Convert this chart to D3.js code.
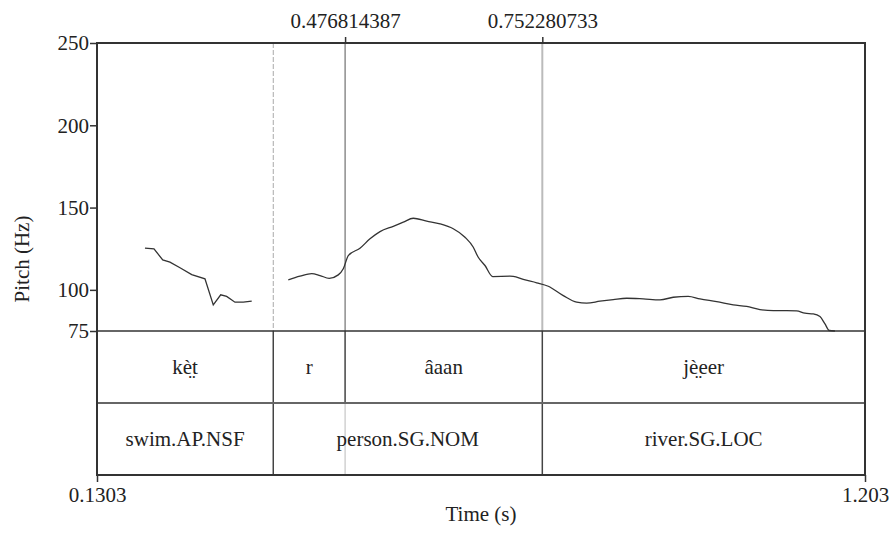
<!DOCTYPE html>
<html>
<head>
<meta charset="utf-8">
<script src="https://cdn.jsdelivr.net/npm/d3@7"></script>
<style>
  body { margin: 0; background: #fff; }
  svg text { font-family: 'Times New Roman', Times, 'Liberation Serif', 'Noto Serif', 'DejaVu Serif', serif; font-size: 21px; fill: #222; }
</style>
</head>
<body>
<div id="chart"></div>
<script>
// Size of the picture
var width = 891;
var height = 533;

// Pitch track, two voiced stretches (time in s, pitch in Hz)
var seg1Time = [0.1973, 0.2099, 0.2221, 0.2322, 0.2462, 0.2626, 0.2811, 0.2927, 0.3031, 0.3114, 0.3230, 0.3346, 0.3464];
var seg1Hz   = [125.3, 124.9, 118.2, 116.8, 113.4, 109.3, 106.7, 90.9, 97.0, 96.0, 92.5, 92.5, 93.1];

var seg2Time = [0.3975, 0.4138, 0.4302, 0.4418, 0.4547, 0.4673, 0.4743, 0.4813, 0.4976, 0.5116, 0.5256, 0.5441,
                0.5581, 0.5721, 0.5908, 0.6094, 0.6279, 0.6443, 0.6559, 0.6628, 0.6722, 0.6830, 0.7071, 0.7117,
                0.7257, 0.7444, 0.7606, 0.7816, 0.8003, 0.8142, 0.8328, 0.8514, 0.8701, 0.8933, 0.9166, 0.9352,
                0.9561, 0.9725, 0.9958, 1.0190, 1.0377, 1.0563, 1.0749, 1.0936, 1.1075, 1.1191, 1.1307, 1.1401,
                1.1471, 1.1531, 1.1610];
var seg2Hz   = [106.1, 108.3, 109.9, 108.7, 107.0, 109.1, 112.8, 120.8, 125.3, 131.0, 135.4, 138.6,
                141.1, 143.5, 141.7, 140.1, 137.1, 132.0, 125.9, 119.8, 114.8, 108.1, 108.3, 108.2,
                106.3, 104.3, 102.2, 96.5, 92.5, 91.9, 93.1, 94.1, 94.9, 94.5, 93.9, 95.5,
                96.1, 94.5, 92.9, 90.9, 89.9, 88.0, 87.4, 87.4, 87.2, 85.8, 85.4, 83.8,
                79.3, 75.3, 75.0];

// TextGrid tiers
var tier1Bounds = [0.3765, 0.476814387, 0.752280733];
var tier1Labels = ["k\u00e8\u0324t", "r", "\u00e2aan", "j\u00e8\u0324eer"];
var tier2Bounds = [0.3765, 0.752280733];
var tier2Labels = ["swim.AP.NSF", "person.SG.NOM", "river.SG.LOC"];

// Axes
var tStart = 0.1303, tEnd = 1.203;
var hzTicks = [75, 100, 150, 200, 250];
var topTicks = [0.476814387, 0.752280733];
var topTickText = ["0.476814387", "0.752280733"];
var bottomTickText = ["0.1303", "1.203"];

var font = "'Times New Roman', Times, 'Liberation Serif', 'Noto Serif', 'DejaVu Serif', serif";

var x = d3.scaleLinear().domain([tStart, tEnd]).range([97, 865]);
var y = d3.scaleLinear().domain([75, 250]).range([331, 43]);
var tierY = d3.scaleBand().domain([0, 1]).range([331, 475]);

var svg = d3.select("#chart").append("svg")
  .attr("width", width)
  .attr("height", height)
  .attr("font-family", font);

// vertical boundary lines in the pitch area
svg.append("line")
  .attr("x1", x(tier1Bounds[0])).attr("x2", x(tier1Bounds[0]))
  .attr("y1", y(250)).attr("y2", y(75))
  .style("stroke", "#aaa").style("stroke-width", 1).style("stroke-dasharray", "5,2");
svg.append("line")
  .attr("x1", x(topTicks[0])).attr("x2", x(topTicks[0]))
  .attr("y1", y(250)).attr("y2", y(75))
  .style("stroke", "#555").style("stroke-width", 1);
svg.append("line")
  .attr("x1", x(topTicks[1])).attr("x2", x(topTicks[1]))
  .attr("y1", y(250)).attr("y2", y(75))
  .style("stroke", "#bbb").style("stroke-width", 2);

// tier boundaries
var tiers = [
  { bounds: tier1Bounds, labels: tier1Labels },
  { bounds: tier2Bounds, labels: tier2Labels }
];
// faint line for the r|âaan boundary inside tier 2
svg.append("line")
  .attr("x1", x(tier1Bounds[1])).attr("x2", x(tier1Bounds[1]))
  .attr("y1", tierY(1)).attr("y2", tierY(1) + tierY.bandwidth())
  .style("stroke", "#bbb").style("stroke-width", 1);

tiers.forEach(function(tier, i) {
  var top = tierY(i), h = tierY.bandwidth();
  svg.selectAll(".b" + i)
    .data(tier.bounds)
    .enter().append("line")
      .attr("x1", function(d) { return x(d); })
      .attr("x2", function(d) { return x(d); })
      .attr("y1", top).attr("y2", top + h)
      .style("stroke", "#444").style("stroke-width", 1.5);
  var edges = [tStart].concat(tier.bounds, [tEnd]);
  svg.selectAll(".l" + i)
    .data(tier.labels)
    .enter().append("text")
      .attr("x", function(d, j) { return (x(edges[j]) + x(edges[j + 1])) / 2; })
      .attr("y", top + h / 2 + 7)
      .attr("text-anchor", "middle")
      .text(function(d) { return d; });
});

// horizontal separators
svg.append("line").attr("x1", 97).attr("x2", 865).attr("y1", y(75)).attr("y2", y(75))
  .style("stroke", "#333").style("stroke-width", 1.5);
svg.append("line").attr("x1", 97).attr("x2", 865).attr("y1", tierY(1)).attr("y2", tierY(1))
  .style("stroke", "#666").style("stroke-width", 2);

// pitch curve
var line = d3.line()
  .curve(d3.curveMonotoneX)
  .x(function(d) { return x(d[0]); })
  .y(function(d) { return y(Math.max(75, d[1])); });
[[seg1Time, seg1Hz], [seg2Time, seg2Hz]].forEach(function(s, k) {
  svg.append("path")
    .datum(d3.zip(s[0], s[1]))
    .attr("d", k === 0 ? line.curve(d3.curveLinear) : line.curve(d3.curveMonotoneX))
    .style("fill", "none")
    .style("stroke", "#333")
    .style("stroke-width", 1.3);
});

// frame
svg.append("rect")
  .attr("x", 97).attr("y", 43)
  .attr("width", 768).attr("height", 432)
  .style("fill", "none").style("stroke", "#333").style("stroke-width", 2);

// left axis
var yAxis = svg.append("g")
  .attr("transform", "translate(97,0)")
  .call(d3.axisLeft(y).tickValues(hzTicks).tickSize(7).tickPadding(1).tickFormat(d3.format("d")));
yAxis.select(".domain").remove();

// top axis (boundary times)
var xTop = svg.append("g")
  .attr("transform", "translate(0,43)")
  .call(d3.axisTop(x).tickValues(topTicks).tickSize(6).tickPadding(9)
    .tickFormat(function(d, i) { return topTickText[i]; }));
xTop.select(".domain").remove();

// bottom axis (start, end)
var xBottom = svg.append("g")
  .attr("transform", "translate(0,475)")
  .call(d3.axisBottom(x).tickValues([tStart, tEnd]).tickSize(7).tickPadding(5)
    .tickFormat(function(d, i) { return bottomTickText[i]; }));
xBottom.select(".domain").remove();

svg.selectAll("g").attr("font-family", font).attr("font-size", 21);
svg.selectAll(".tick line").style("stroke", "#333").style("stroke-width", 1.5);
svg.selectAll(".tick text").style("fill", "#222");

// axis titles
svg.append("text")
  .attr("x", 481).attr("y", 521)
  .attr("text-anchor", "middle")
  .text("Time (s)");
svg.append("text")
  .attr("transform", "translate(29,259) rotate(-90)")
  .attr("text-anchor", "middle")
  .text("Pitch (Hz)");
</script>
</body>
</html>
